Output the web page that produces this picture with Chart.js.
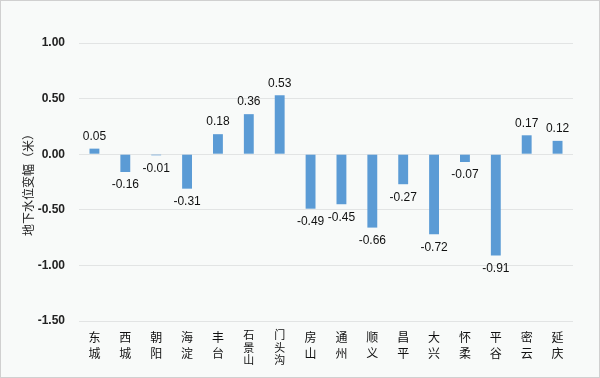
<!DOCTYPE html>
<html><head><meta charset="utf-8">
<script src="https://cdn.jsdelivr.net/npm/chart.js@4/dist/chart.umd.min.js"></script>
<style>html,body{margin:0;padding:0;background:#fff}#wrap{width:600px;height:378px;position:relative}</style>
</head><body><div id="wrap"><canvas id="c" width="600" height="378"></canvas></div>
<script>
const categories = [['东','城'],['西','城'],['朝','阳'],['海','淀'],['丰','台'],['石','景','山'],['门','头','沟'],['房','山'],['通','州'],['顺','义'],['昌','平'],['大','兴'],['怀','柔'],['平','谷'],['密','云'],['延','庆']];
const values = [0.05,-0.16,-0.01,-0.31,0.18,0.36,0.53,-0.49,-0.45,-0.66,-0.27,-0.72,-0.07,-0.91,0.17,0.12];
const yTicks = [-1.5,-1.0,-0.5,0,0.5,1.0];
const yTitle = '地下水位变幅（米）';

const bgPlugin = {
  id:'bg',
  beforeDraw(chart){
    const ctx = chart.ctx;
    ctx.save();
    ctx.fillStyle = '#f8faf9';
    ctx.fillRect(0,0,chart.width,chart.height);
    ctx.strokeStyle = '#d0d0d0';
    ctx.lineWidth = 1;
    ctx.strokeRect(0.5,0.5,chart.width-1,chart.height-1);
    ctx.restore();
  }
};
const labelPlugin = {
  id:'vals',
  afterDatasetsDraw(chart){
    const ctx = chart.ctx;
    const meta = chart.getDatasetMeta(0);
    ctx.save();
    ctx.font = '12px "Liberation Sans", Arial, sans-serif';
    ctx.fillStyle = '#111';
    ctx.textAlign = 'center';
    ctx.textBaseline = 'middle';
    meta.data.forEach((bar,i)=>{
      const v = values[i];
      const y = v >= 0 ? bar.y - 12 : bar.y + 13;
      ctx.fillText(v.toFixed(2), bar.x, y);
    });
    ctx.restore();
  }
};

new Chart(document.getElementById('c'), {
  type:'bar',
  data:{labels:categories, datasets:[{data:values, backgroundColor:'#5b9bd5', borderWidth:0, barPercentage:0.32, categoryPercentage:1}]},
  options:{
    responsive:false, animation:false,
    layout:{padding:{top:43,right:27,left:0,bottom:0}},
    plugins:{legend:{display:false},tooltip:{enabled:false}},
    scales:{
      x:{
        grid:{display:false},
        border:{display:false},
        ticks:{autoSkip:false,maxRotation:0,minRotation:0,color:'#111',padding:0,
          font:(ctx)=>{
            const lab = categories[ctx.index] || [];
            return lab.length>2
              ? {family:'"Noto Sans CJK SC", sans-serif',size:11,lineHeight:'12.5px'}
              : {family:'"Noto Sans CJK SC", sans-serif',size:12,lineHeight:'16px'};
          }},
        afterFit(s){s.height = 57;}
      },
      y:{
        min:-1.5,max:1.0,
        afterBuildTicks(s){s.ticks = yTicks.map(v=>({value:v}));},
        grid:{color:'#e2e4e4',drawTicks:false,lineWidth:1},
        border:{display:false},
        ticks:{padding:14,color:'#222',font:{family:'"Liberation Sans", Arial, sans-serif',size:12,weight:'bold'},
          callback:v=>Number(v).toFixed(2)},
        title:{display:true,text:yTitle,color:'#222',padding:{top:21,bottom:0},
          font:{family:'"Noto Sans CJK SC", sans-serif',size:12}},
        afterFit(s){s.width = 79;}
      }
    }
  },
  plugins:[bgPlugin,labelPlugin]
});
</script></body></html>
